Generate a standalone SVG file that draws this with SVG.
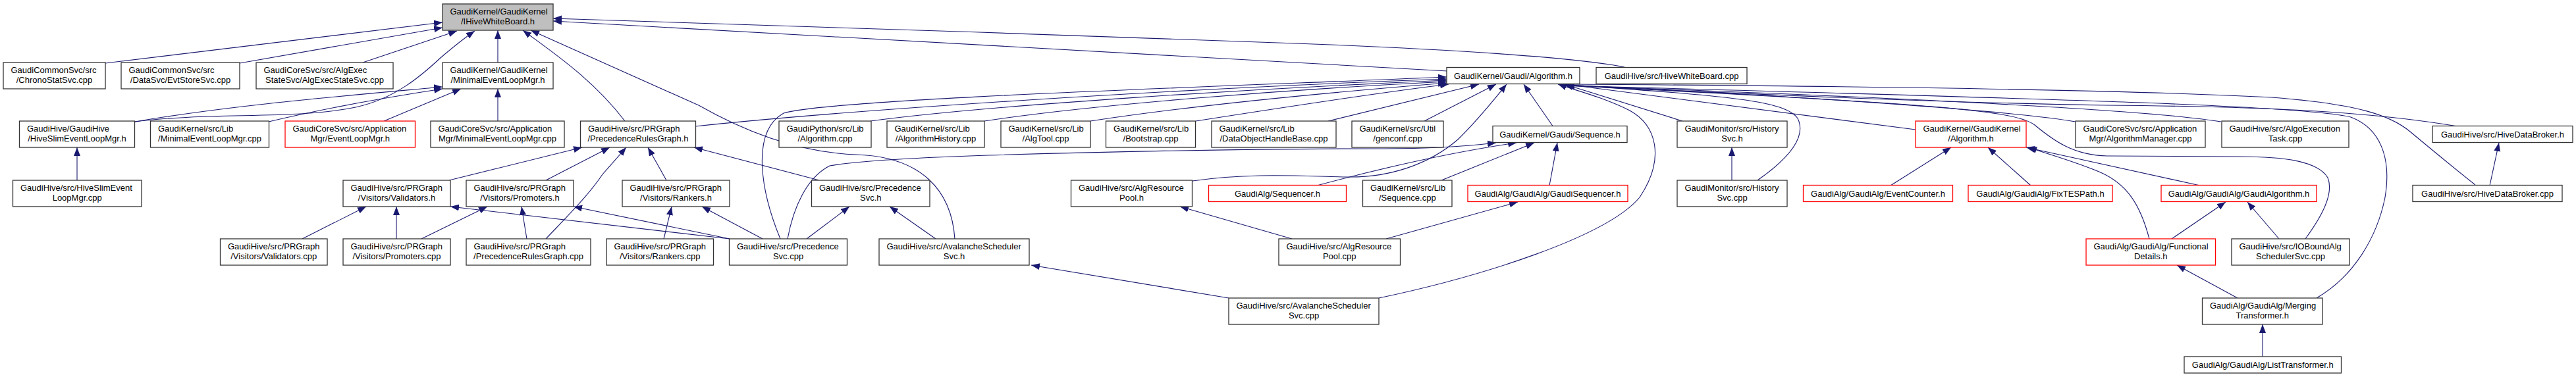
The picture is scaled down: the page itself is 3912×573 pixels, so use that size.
<svg xmlns="http://www.w3.org/2000/svg" width="3912" height="573" viewBox="0 0 3912 573">
<defs>
<style>
.node rect{fill:#fff;stroke:#333;stroke-width:1.3}
.node.red rect{stroke:#ff0000}
.node.main rect{fill:#bfbfbf}
.node text{font-family:"Liberation Sans",Arial,Helvetica,sans-serif;font-size:13px;fill:#000}
.node text.c{text-anchor:middle}
#edges path{fill:none;stroke:#191970;stroke-width:1.1;marker-end:url(#arr)}
</style>
<marker id="arr" markerUnits="userSpaceOnUse" markerWidth="14" markerHeight="11" viewBox="0 0 14 11" refX="13" refY="5" orient="auto">
<path d="M0,0 L13,5 L0,10 z" fill="#191970"/>
</marker>
</defs>
<rect width="3912" height="573" fill="#fff"/>
<g id="edges">
<path d="M160,96 L672,34"/>
<path d="M364,96 L672,42"/>
<path d="M551,95 L694,47"/>
<path d="M205,185 C320,170 450,182 540,163 C600,150 640,115 670,87 C690,70 705,58 721,47"/>
<path d="M756,95 L756,46"/>
<path d="M949,184 C900,120 840,80 794,46"/>
<path d="M1450,363 C1445,290 1400,238 1300,235 C1220,232 1140,205 1061,160 L806,46"/>
<path d="M2198,108 L840,32"/>
<path d="M2467,102 C2400,88 2200,74 1940,65 C1600,53 1100,35 840,28"/>
<path d="M205,185 C350,160 520,146 672,132"/>
<path d="M408,185 C500,163 600,146 672,135"/>
<path d="M583,184 L700,135"/>
<path d="M756,184 L756,135"/>
<path d="M1056,192 C1300,166 1800,134 2197,120"/>
<path d="M1185,363 C1155,290 1140,200 1190,172 C1260,150 1900,130 2197,117"/>
<path d="M1322,184 C1500,160 1900,135 2197,122"/>
<path d="M1495,184 C1650,160 1950,136 2197,124"/>
<path d="M1656,184 C1800,162 2000,142 2197,126"/>
<path d="M1816,184 C1950,163 2100,140 2200,128"/>
<path d="M2017,184 L2246,128"/>
<path d="M2163,184 L2272,128"/>
<path d="M1811,275 C1900,262 1980,268 2046,269 C2110,270 2170,250 2214,212 C2245,182 2270,150 2288,128"/>
<path d="M2358,191.5 L2314,128"/>
<path d="M2094,453 C2250,420 2440,360 2490,300 C2530,240 2515,190 2475,168 C2435,148 2395,138 2366,128"/>
<path d="M2555,184 L2376,128"/>
<path d="M2669,274 C2712,244 2745,210 2730,180 C2710,150 2600,145 2372,128"/>
<path d="M2909,197 L2376,128"/>
<path d="M3152,185 C3050,168 2750,147 2378,129"/>
<path d="M3373,185 C3250,165 2800,145 2378,130"/>
<path d="M3732,192 C3600,170 3450,162 3200,160 C2900,155 2600,140 2378,130"/>
<path d="M3759,281 C3720,250 3690,225 3660,200 C3630,175 3580,158 3450,148 C3200,135 2700,130 2378,128"/>
<path d="M3518,453 C3575,420 3610,360 3622,300 C3632,240 3615,195 3570,178 C3500,160 3100,150 2378,130"/>
<path d="M3501,363 C3525,330 3545,295 3535,270 C3520,245 3470,238 3400,238 L3200,237 C3150,236 3120,215 3090,190 C3060,168 2950,158 2378,130"/>
<path d="M2630,274 L2630,224"/>
<path d="M2871,282 L2963,224"/>
<path d="M3084,282 L3019,224"/>
<path d="M3341,282 L3077,224"/>
<path d="M3264,363 C3250,310 3230,280 3190,262 C3150,245 3110,234 3080,224"/>
<path d="M3298,363 L3380,307"/>
<path d="M3461,363 L3413,307"/>
<path d="M3398,453 L3306,403"/>
<path d="M3436,542 L3436,493"/>
<path d="M3781,282 L3795,217"/>
<path d="M2189,274 L2330,217"/>
<path d="M2000,282 C2100,255 2200,232 2303,217"/>
<path d="M2353,282 L2365,217"/>
<path d="M1196,363 C1205,315 1225,270 1260,252 C1300,245 1380,240 1500,236 C1700,230 1900,226 2100,226 C2180,226 2230,222 2272,217"/>
<path d="M1962,363 L1792,314"/>
<path d="M2105,363 L2305,307"/>
<path d="M1866,453 L1566,403"/>
<path d="M1421,363 L1351,314"/>
<path d="M1225,363 L1290,314"/>
<path d="M1158,363 L1066,314"/>
<path d="M1008,363 L1020,314"/>
<path d="M1108,363 L871,314"/>
<path d="M1108,363 L684,314"/>
<path d="M800,363 L792,314"/>
<path d="M829,363 C865,325 895,295 915,265 L951,224"/>
<path d="M640,363 L740,314"/>
<path d="M602,363 L602,314"/>
<path d="M459,363 L556,314"/>
<path d="M682,274 L884,224"/>
<path d="M829,274 L926,224"/>
<path d="M1012,274 L984,224"/>
<path d="M1244,274 L1054,224"/>
<path d="M117,274 L117,224"/>
</g>
<g id="n0" class="node main"><rect x="672" y="6" width="168" height="40"/><text x="683.5" y="22">GaudiKernel/GaudiKernel</text><text class="c" x="756" y="36.5">/IHiveWhiteBoard.h</text></g>
<g id="n1" class="node"><rect x="5" y="95" width="155" height="40"/><text x="16.5" y="111">GaudiCommonSvc/src</text><text class="c" x="82.5" y="125.5">/ChronoStatSvc.cpp</text></g>
<g id="n2" class="node"><rect x="184" y="95" width="180" height="40"/><text x="195.5" y="111">GaudiCommonSvc/src</text><text class="c" x="274" y="125.5">/DataSvc/EvtStoreSvc.cpp</text></g>
<g id="n3" class="node"><rect x="389" y="95" width="208" height="40"/><text x="400.5" y="111">GaudiCoreSvc/src/AlgExec</text><text class="c" x="493" y="125.5">StateSvc/AlgExecStateSvc.cpp</text></g>
<g id="n4" class="node"><rect x="672" y="95" width="168" height="40"/><text x="683.5" y="111">GaudiKernel/GaudiKernel</text><text class="c" x="756" y="125.5">/MinimalEventLoopMgr.h</text></g>
<g id="n5" class="node"><rect x="2197" y="102.5" width="202" height="25"/><text class="c" x="2298" y="119.5">GaudiKernel/Gaudi/Algorithm.h</text></g>
<g id="n6" class="node"><rect x="2424" y="102.5" width="229" height="25"/><text class="c" x="2538.5" y="119.5">GaudiHive/src/HiveWhiteBoard.cpp</text></g>
<g id="n7" class="node"><rect x="29.5" y="184" width="175" height="40"/><text x="41" y="200">GaudiHive/GaudiHive</text><text class="c" x="117" y="214.5">/HiveSlimEventLoopMgr.h</text></g>
<g id="n8" class="node"><rect x="228.5" y="184" width="180" height="40"/><text x="240" y="200">GaudiKernel/src/Lib</text><text class="c" x="318.5" y="214.5">/MinimalEventLoopMgr.cpp</text></g>
<g id="n9" class="node red"><rect x="433" y="184" width="197.5" height="40"/><text x="444.5" y="200">GaudiCoreSvc/src/Application</text><text class="c" x="531.75" y="214.5">Mgr/EventLoopMgr.h</text></g>
<g id="n10" class="node"><rect x="654" y="184" width="203" height="40"/><text x="665.5" y="200">GaudiCoreSvc/src/Application</text><text class="c" x="755.5" y="214.5">Mgr/MinimalEventLoopMgr.cpp</text></g>
<g id="n11" class="node"><rect x="881.5" y="184" width="175" height="40"/><text x="893" y="200">GaudiHive/src/PRGraph</text><text class="c" x="969" y="214.5">/PrecedenceRulesGraph.h</text></g>
<g id="n12" class="node"><rect x="1183" y="184" width="140" height="40"/><text x="1194.5" y="200">GaudiPython/src/Lib</text><text class="c" x="1253" y="214.5">/Algorithm.cpp</text></g>
<g id="n13" class="node"><rect x="1347" y="184" width="148" height="40"/><text x="1358.5" y="200">GaudiKernel/src/Lib</text><text class="c" x="1421" y="214.5">/AlgorithmHistory.cpp</text></g>
<g id="n14" class="node"><rect x="1520" y="184" width="136" height="40"/><text x="1531.5" y="200">GaudiKernel/src/Lib</text><text class="c" x="1588" y="214.5">/AlgTool.cpp</text></g>
<g id="n15" class="node"><rect x="1679.5" y="184" width="136" height="40"/><text x="1691" y="200">GaudiKernel/src/Lib</text><text class="c" x="1747.5" y="214.5">/Bootstrap.cpp</text></g>
<g id="n16" class="node"><rect x="1840" y="184" width="189" height="40"/><text x="1851.5" y="200">GaudiKernel/src/Lib</text><text class="c" x="1934.5" y="214.5">/DataObjectHandleBase.cpp</text></g>
<g id="n17" class="node"><rect x="2053" y="184" width="139" height="40"/><text x="2064.5" y="200">GaudiKernel/src/Util</text><text class="c" x="2122.5" y="214.5">/genconf.cpp</text></g>
<g id="n18" class="node"><rect x="2267" y="191.5" width="204" height="25"/><text class="c" x="2369" y="208.5">GaudiKernel/Gaudi/Sequence.h</text></g>
<g id="n19" class="node"><rect x="2547" y="184" width="167" height="40"/><text x="2558.5" y="200">GaudiMonitor/src/History</text><text class="c" x="2630.5" y="214.5">Svc.h</text></g>
<g id="n20" class="node red"><rect x="2909" y="184" width="168" height="40"/><text x="2920.5" y="200">GaudiKernel/GaudiKernel</text><text class="c" x="2993" y="214.5">/Algorithm.h</text></g>
<g id="n21" class="node"><rect x="3152" y="184" width="197" height="40"/><text x="3163.5" y="200">GaudiCoreSvc/src/Application</text><text class="c" x="3250.5" y="214.5">Mgr/AlgorithmManager.cpp</text></g>
<g id="n22" class="node"><rect x="3374" y="184" width="193" height="40"/><text x="3385.5" y="200">GaudiHive/src/AlgoExecution</text><text class="c" x="3470.5" y="214.5">Task.cpp</text></g>
<g id="n23" class="node"><rect x="3694" y="191.5" width="213" height="25"/><text class="c" x="3800.5" y="208.5">GaudiHive/src/HiveDataBroker.h</text></g>
<g id="n24" class="node"><rect x="19.5" y="274" width="195.5" height="40"/><text x="31" y="290">GaudiHive/src/HiveSlimEvent</text><text class="c" x="117.25" y="304.5">LoopMgr.cpp</text></g>
<g id="n25" class="node"><rect x="521" y="274" width="163" height="40"/><text x="532.5" y="290">GaudiHive/src/PRGraph</text><text class="c" x="602.5" y="304.5">/Visitors/Validators.h</text></g>
<g id="n26" class="node"><rect x="708" y="274" width="163" height="40"/><text x="719.5" y="290">GaudiHive/src/PRGraph</text><text class="c" x="789.5" y="304.5">/Visitors/Promoters.h</text></g>
<g id="n27" class="node"><rect x="945" y="274" width="163" height="40"/><text x="956.5" y="290">GaudiHive/src/PRGraph</text><text class="c" x="1026.5" y="304.5">/Visitors/Rankers.h</text></g>
<g id="n28" class="node"><rect x="1232.5" y="274" width="179.5" height="40"/><text x="1244" y="290">GaudiHive/src/Precedence</text><text class="c" x="1322.25" y="304.5">Svc.h</text></g>
<g id="n29" class="node"><rect x="1626.5" y="274" width="184" height="40"/><text x="1638" y="290">GaudiHive/src/AlgResource</text><text class="c" x="1718.5" y="304.5">Pool.h</text></g>
<g id="n30" class="node red"><rect x="1835.5" y="281.5" width="209" height="25"/><text class="c" x="1940" y="298.5">GaudiAlg/Sequencer.h</text></g>
<g id="n31" class="node"><rect x="2069.5" y="274" width="135.5" height="40"/><text x="2081" y="290">GaudiKernel/src/Lib</text><text class="c" x="2137.25" y="304.5">/Sequence.cpp</text></g>
<g id="n32" class="node red"><rect x="2229" y="281.5" width="243" height="25"/><text class="c" x="2350.5" y="298.5">GaudiAlg/GaudiAlg/GaudiSequencer.h</text></g>
<g id="n33" class="node"><rect x="2547" y="274" width="167" height="40"/><text x="2558.5" y="290">GaudiMonitor/src/History</text><text class="c" x="2630.5" y="304.5">Svc.cpp</text></g>
<g id="n34" class="node red"><rect x="2738.5" y="281.5" width="227" height="25"/><text class="c" x="2852" y="298.5">GaudiAlg/GaudiAlg/EventCounter.h</text></g>
<g id="n35" class="node red"><rect x="2989" y="281.5" width="219" height="25"/><text class="c" x="3098.5" y="298.5">GaudiAlg/GaudiAlg/FixTESPath.h</text></g>
<g id="n36" class="node red"><rect x="3282" y="281.5" width="236" height="25"/><text class="c" x="3400" y="298.5">GaudiAlg/GaudiAlg/GaudiAlgorithm.h</text></g>
<g id="n37" class="node"><rect x="3664" y="281.5" width="227" height="25"/><text class="c" x="3777.5" y="298.5">GaudiHive/src/HiveDataBroker.cpp</text></g>
<g id="n38" class="node"><rect x="334.5" y="363" width="162.5" height="40"/><text x="346" y="379">GaudiHive/src/PRGraph</text><text class="c" x="415.75" y="393.5">/Visitors/Validators.cpp</text></g>
<g id="n39" class="node"><rect x="521" y="363" width="163" height="40"/><text x="532.5" y="379">GaudiHive/src/PRGraph</text><text class="c" x="602.5" y="393.5">/Visitors/Promoters.cpp</text></g>
<g id="n40" class="node"><rect x="708" y="363" width="189" height="40"/><text x="719.5" y="379">GaudiHive/src/PRGraph</text><text class="c" x="802.5" y="393.5">/PrecedenceRulesGraph.cpp</text></g>
<g id="n41" class="node"><rect x="921" y="363" width="162.5" height="40"/><text x="932.5" y="379">GaudiHive/src/PRGraph</text><text class="c" x="1002.25" y="393.5">/Visitors/Rankers.cpp</text></g>
<g id="n42" class="node"><rect x="1107.5" y="363" width="179" height="40"/><text x="1119" y="379">GaudiHive/src/Precedence</text><text class="c" x="1197" y="393.5">Svc.cpp</text></g>
<g id="n43" class="node"><rect x="1335" y="363" width="228" height="40"/><text x="1346.5" y="379">GaudiHive/src/AvalancheScheduler</text><text class="c" x="1449" y="393.5">Svc.h</text></g>
<g id="n44" class="node"><rect x="1942" y="363" width="184.5" height="40"/><text x="1953.5" y="379">GaudiHive/src/AlgResource</text><text class="c" x="2034.25" y="393.5">Pool.cpp</text></g>
<g id="n45" class="node red"><rect x="3168" y="363" width="196.5" height="40"/><text x="3179.5" y="379">GaudiAlg/GaudiAlg/Functional</text><text class="c" x="3266.25" y="393.5">Details.h</text></g>
<g id="n46" class="node"><rect x="3389" y="363" width="179" height="40"/><text x="3400.5" y="379">GaudiHive/src/IOBoundAlg</text><text class="c" x="3478.5" y="393.5">SchedulerSvc.cpp</text></g>
<g id="n47" class="node"><rect x="1866" y="453" width="228" height="40"/><text x="1877.5" y="469">GaudiHive/src/AvalancheScheduler</text><text class="c" x="1980" y="483.5">Svc.cpp</text></g>
<g id="n48" class="node"><rect x="3344.5" y="453" width="182.5" height="40"/><text x="3356" y="469">GaudiAlg/GaudiAlg/Merging</text><text class="c" x="3435.75" y="483.5">Transformer.h</text></g>
<g id="n49" class="node"><rect x="3317" y="542" width="238.5" height="25"/><text class="c" x="3436.25" y="559">GaudiAlg/GaudiAlg/ListTransformer.h</text></g>
</svg>
